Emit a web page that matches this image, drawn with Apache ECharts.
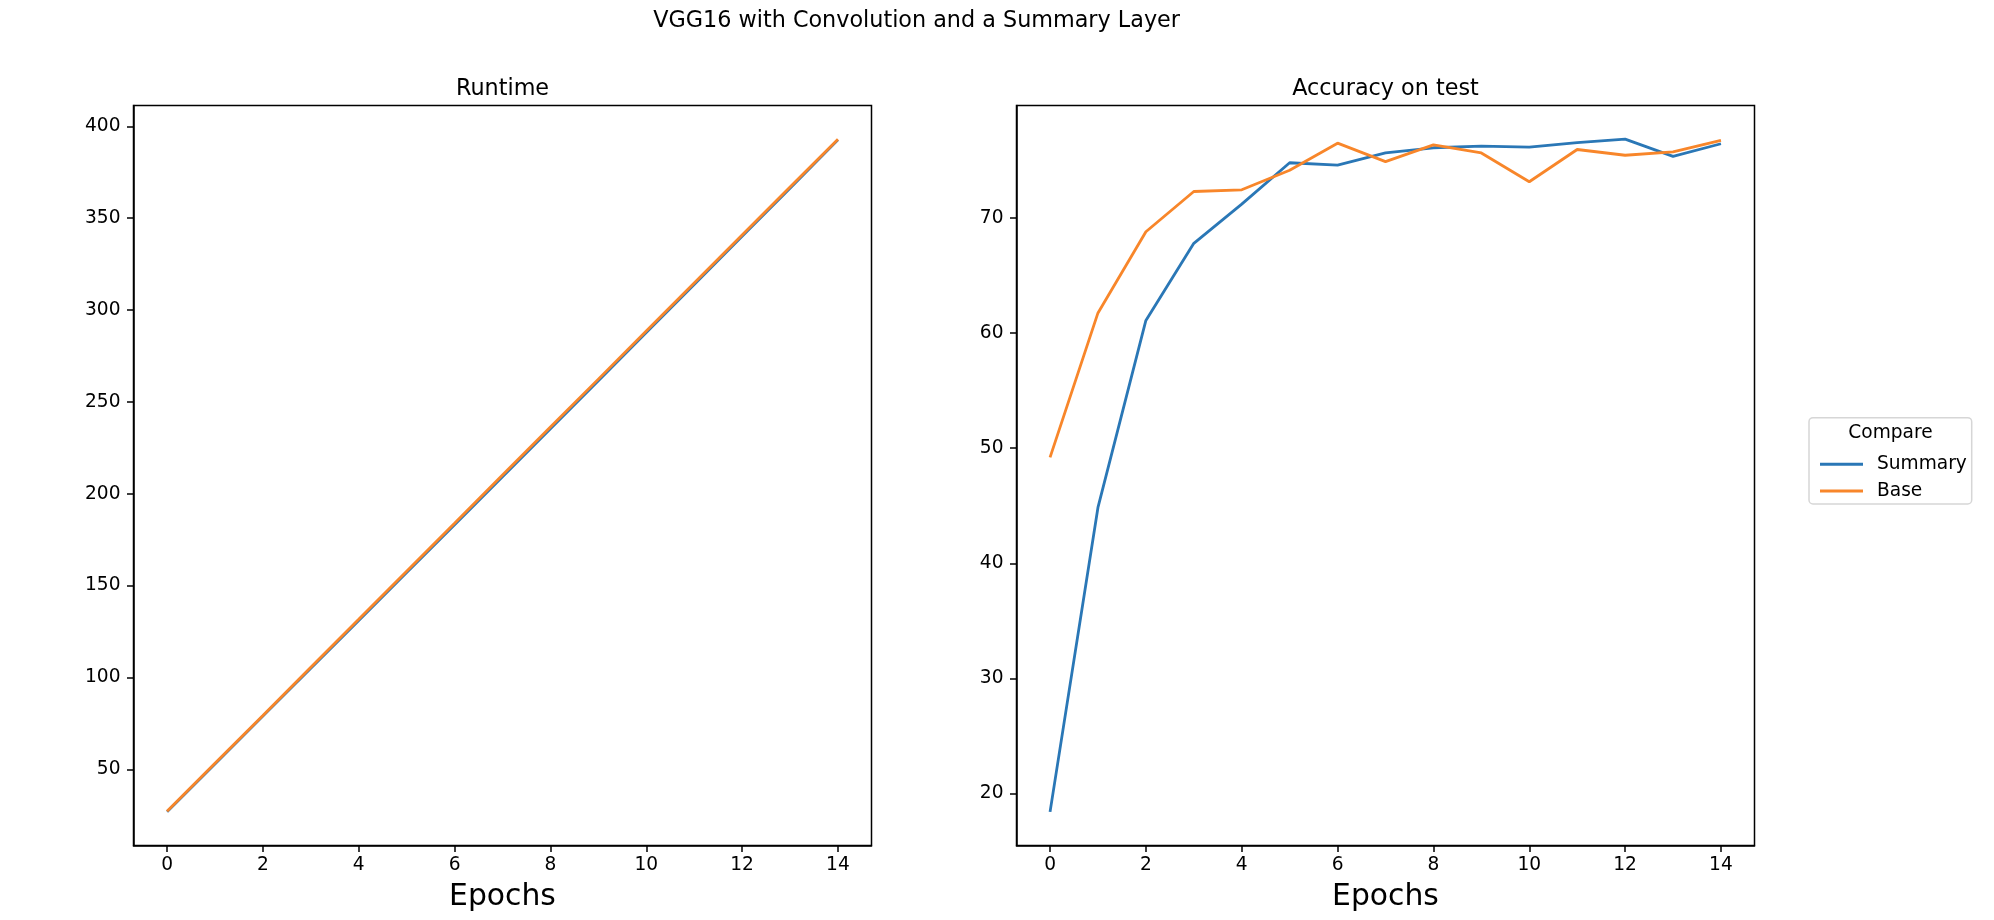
<!DOCTYPE html>
<html>
<head>
<meta charset="utf-8">
<script src="https://cdn.jsdelivr.net/npm/echarts@6/dist/echarts.min.js"></script>
<style>
html,body{margin:0;padding:0;background:#fff;}
#chart{width:1994px;height:920px;}
</style>
</head>
<body>
<div id="chart"></div>
<script>
const epochs = [0,1,2,3,4,5,6,7,8,9,10,11,12,13,14];
const runtimeSummary = [26.9, 53.0, 79.0, 105.0, 131.1, 157.1, 183.2, 209.3, 235.4, 261.5, 287.7, 313.9, 340.1, 366.3, 392.6];
const runtimeBase = [27.2, 53.3, 79.4, 105.6, 131.7, 157.9, 184.0, 210.2, 236.3, 262.4, 288.6, 314.7, 340.8, 366.9, 393.0];
const accSummary = [18.4, 44.85, 61.1, 67.8, 71.2, 74.8, 74.6, 75.65, 76.1, 76.25, 76.15, 76.55, 76.85, 75.35, 76.45];
const accBase = [49.2, 61.75, 68.8, 72.3, 72.45, 74.15, 76.5, 74.9, 76.35, 75.65, 73.15, 75.95, 75.45, 75.75, 76.75];
const xTicks = [0,2,4,6,8,10,12,14];
const runtimeTicks = [50,100,150,200,250,300,350,400];
const accTicks = [20,30,40,50,60,70];
const seriesNames = ['Summary','Base'];
const colors = ['#2a77b6','#f8862a'];
const suptitle = 'VGG16 with Convolution and a Summary Layer';
const titles = ['Runtime','Accuracy on test'];
const xLabel = 'Epochs';
const legendTitle = 'Compare';

const FONT = '"DejaVu Sans", sans-serif';
function pad(arrs){
  const all = [].concat(...arrs);
  const mn = Math.min(...all), mx = Math.max(...all);
  const m = (mx - mn) * 0.05;
  return [mn - m, mx + m];
}
const xr = pad([epochs]);
const yr1 = pad([runtimeSummary, runtimeBase]);
const yr2 = pad([accSummary, accBase]);

const G = [
  {left:133.5, top:105.5, width:738, height:740},
  {left:1016.5, top:105.5, width:738, height:740}
];

function xAxis(i){
  return {
    type:'value', gridIndex:i, min:xr[0], max:xr[1],
    splitLine:{show:false},
    axisLine:{show:true, onZero:false, lineStyle:{color:'#000', width:1.5}},
    axisTick:{show:true, inside:false, length:6.5, lineStyle:{color:'#000', width:1.5}, customValues:xTicks},
    axisLabel:{show:true, color:'#000', fontSize:18.6, fontFamily:FONT, margin:10, customValues:xTicks}
  };
}
function yAxis(i, r, ticks){
  return {
    type:'value', gridIndex:i, min:r[0], max:r[1],
    splitLine:{show:false},
    axisLine:{show:true, onZero:false, lineStyle:{color:'#000', width:1.5}},
    axisTick:{show:true, inside:false, length:6.5, lineStyle:{color:'#000', width:1.5}, customValues:ticks},
    axisLabel:{show:true, color:'#000', fontSize:18.6, fontFamily:FONT, margin:13, customValues:ticks}
  };
}
function line(name, data, xi, color){
  return {
    type:'line', name:name, xAxisIndex:xi, yAxisIndex:xi,
    data: epochs.map((e,k)=>[e, data[k]]),
    showSymbol:false, symbol:'none', smooth:false,
    lineStyle:{color:color, width:2.8},
    itemStyle:{color:color},
    emphasis:{disabled:true}, animation:false
  };
}
function txt(text, x, y, size){
  return {type:'text', x:x, y:y, style:{text:text, fill:'#000', font: size+'px '+FONT, textAlign:'center', textVerticalAlign:'middle', align:'center', verticalAlign:'middle'}};
}
const c1 = G[0].left + G[0].width/2, c2 = G[1].left + G[1].width/2;

const chart = echarts.init(document.getElementById('chart'), null, {renderer:'canvas'});
chart.setOption({
  animation:false,
  backgroundColor:'#fff',
  grid: G.map(g=>Object.assign({show:true, borderColor:'#000', borderWidth:1.5, backgroundColor:'transparent', containLabel:false, outerBoundsMode:'none'}, g)),
  xAxis:[xAxis(0), xAxis(1)],
  yAxis:[yAxis(0, yr1, runtimeTicks), yAxis(1, yr2, accTicks)],
  legend:{
    data:seriesNames, orient:'vertical', left:1815, top:449.3,
    icon:'rect', itemWidth:43, itemHeight:3, itemGap:6.7,
    textStyle:{fontSize:18.6, fontFamily:FONT, color:'#000', lineHeight:20, padding:[0,0,0,9]},
    selectedMode:false
  },
  graphic:[
    {type:'rect', shape:{x:1809, y:417.7, width:162.7, height:86.3, r:4}, style:{fill:'rgba(255,255,255,0.8)', stroke:'#d6d6d6', lineWidth:1.5}, z:-1},
    txt(legendTitle, 1890.5, 439.3-6.4, 18.6),
    txt(suptitle, 916.6, 29.3-7.7, 22.3),
    txt(titles[0], c1, 97-7.7, 22.3),
    txt(titles[1], c2, 97-7.7, 22.3),
    txt(xLabel, c1, 908-10.3, 29.8),
    txt(xLabel, c2, 908-10.3, 29.8)
  ],
  series:[
    line(seriesNames[0], runtimeSummary, 0, colors[0]),
    line(seriesNames[1], runtimeBase, 0, colors[1]),
    line(seriesNames[0], accSummary, 1, colors[0]),
    line(seriesNames[1], accBase, 1, colors[1])
  ]
});
</script>
</body>
</html>
